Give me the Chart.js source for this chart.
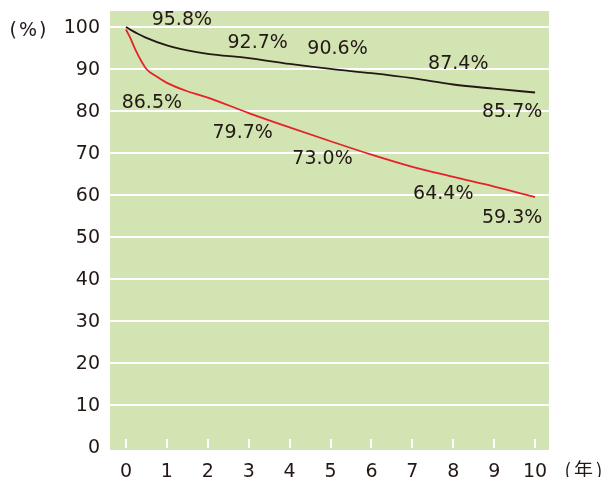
<!DOCTYPE html>
<html>
<head>
<meta charset="utf-8">
<script src="https://cdn.jsdelivr.net/npm/chart.js@4/dist/chart.umd.min.js"></script>
<style>
  body { margin: 0; background: #fff; }
</style>
</head>
<body>
<canvas id="canvas" width="607" height="477"></canvas>
<script>
// years on x, percent on y
const blackYears = [0, 0.1, 0.25, 0.5, 1, 1.5, 2, 3, 4, 5, 6, 7, 8, 9, 10];
const blackValues = [100, 99.4, 98.6, 97.4, 95.6, 94.4, 93.6, 92.6, 91.2, 90.0, 89.0, 87.8, 86.3, 85.3, 84.4];

const redYears = [0, 0.1, 0.25, 0.5, 0.75, 1, 1.5, 2, 3, 4, 5, 6, 7, 8, 9, 10];
const redValues = [99.4, 97.5, 94.2, 90.0, 88.2, 86.7, 84.7, 83.2, 79.5, 76.1, 72.8, 69.6, 66.7, 64.3, 62.0, 59.5];

const labelYears = [1, 3, 5, 8, 10];
const blackLabels = [95.8, 92.7, 90.6, 87.4, 85.7];
const redLabels = [86.5, 79.7, 73.0, 64.4, 59.3];

const xTicks = [0, 1, 2, 3, 4, 5, 6, 7, 8, 9, 10];
const yTicks = [0, 10, 20, 30, 40, 50, 60, 70, 80, 90, 100];

const FONT = '"DejaVu Sans", sans-serif';
const TEXT = '#231815';

function pts(xs, ys) {
    return xs.map(function(x, i){ return {x: x, y: ys[i]}; });
}

// pixel offsets of the value texts from their point
const blackOffsets = [[15, -25], [9, -15], [7, -17], [5, -16], [-23, 25]];
const redOffsets = [[-15, 19], [-6, 21], [-8, 19], [-10, 18], [-23, 20]];

const extras = {
    id: 'extras',
    beforeDraw(chart) {
        const {ctx, chartArea: a} = chart;
        ctx.save();
        ctx.fillStyle = '#d2e4b1';
        ctx.fillRect(a.left, a.top, a.right - a.left, a.bottom - a.top);
        ctx.restore();
    },
    beforeDatasetsDraw(chart) {
        const {ctx, scales: {x, y}} = chart;
        ctx.save();
        ctx.strokeStyle = '#ffffff';
        ctx.lineWidth = 2;
        const y0 = y.getPixelForValue(0);
        xTicks.forEach(function(t){
            const px = Math.round(x.getPixelForValue(t));
            ctx.beginPath();
            ctx.moveTo(px, y0 + 1);
            ctx.lineTo(px, y0 - 8);
            ctx.stroke();
        });
        ctx.restore();
    },
    afterDraw(chart) {
        const {ctx, scales: {x, y}} = chart;
        ctx.save();
        ctx.fillStyle = TEXT;
        ctx.font = '19px ' + FONT;
        ctx.textAlign = 'center';
        ctx.textBaseline = 'middle';
        labelYears.forEach(function(yr, i){
            let px = x.getPixelForValue(yr), py = y.getPixelForValue(blackLabels[i]);
            ctx.fillText(blackLabels[i].toFixed(1) + '%', px + blackOffsets[i][0], py + blackOffsets[i][1]);
            py = y.getPixelForValue(redLabels[i]);
            ctx.fillText(redLabels[i].toFixed(1) + '%', px + redOffsets[i][0], py + redOffsets[i][1]);
        });
        ctx.letterSpacing = '2px';
        ctx.fillText('(%)', 29, 31);
        ctx.font = '19px "Noto Sans CJK JP", sans-serif';
        ctx.letterSpacing = '3px';
        ctx.fillText('(年)', 585, 470);
        ctx.restore();
    }
};

const ctx = document.getElementById('canvas').getContext('2d');
const myChart = new Chart(ctx, {
    type: 'line',
    data: {
        datasets: [{
            label: 'black',
            data: pts(blackYears, blackValues),
            borderColor: '#231815',
            borderWidth: 1.8,
            pointRadius: 0,
            cubicInterpolationMode: 'monotone'
        }, {
            label: 'red',
            data: pts(redYears, redValues),
            borderColor: '#e8202a',
            borderWidth: 1.8,
            pointRadius: 0,
            cubicInterpolationMode: 'monotone'
        }]
    },
    options: {
        responsive: false,
        animation: false,
        layout: { padding: { left: 0, top: 11, right: 58, bottom: 0 } },
        plugins: { legend: { display: false }, tooltip: { enabled: false } },
        scales: {
            x: {
                type: 'linear',
                min: -0.39,
                max: 10.34,
                afterBuildTicks: function(s){ s.ticks = xTicks.map(function(v){ return {value: v}; }); },
                afterFit: function(s){ s.height = 27; s.paddingLeft = 0; s.paddingRight = 0; },
                grid: { display: false, drawTicks: false },
                border: { display: false },
                ticks: { color: TEXT, font: { family: FONT, size: 19 }, padding: 11, maxRotation: 0 }
            },
            y: {
                min: -0.7,
                max: 103.8,
                afterBuildTicks: function(s){ s.ticks = yTicks.map(function(v){ return {value: v}; }); },
                afterFit: function(s){ s.width = 110; s.paddingTop = 0; s.paddingBottom = 0; },
                grid: {
                    drawTicks: false,
                    lineWidth: 2,
                    color: function(c){ return c.tick && c.tick.value === 0 ? 'rgba(0,0,0,0)' : '#ffffff'; }
                },
                border: { display: false },
                ticks: { color: TEXT, font: { family: FONT, size: 19 }, padding: 10, labelOffset: 1.5 }
            }
        }
    },
    plugins: [extras]
});
</script>
</body>
</html>
